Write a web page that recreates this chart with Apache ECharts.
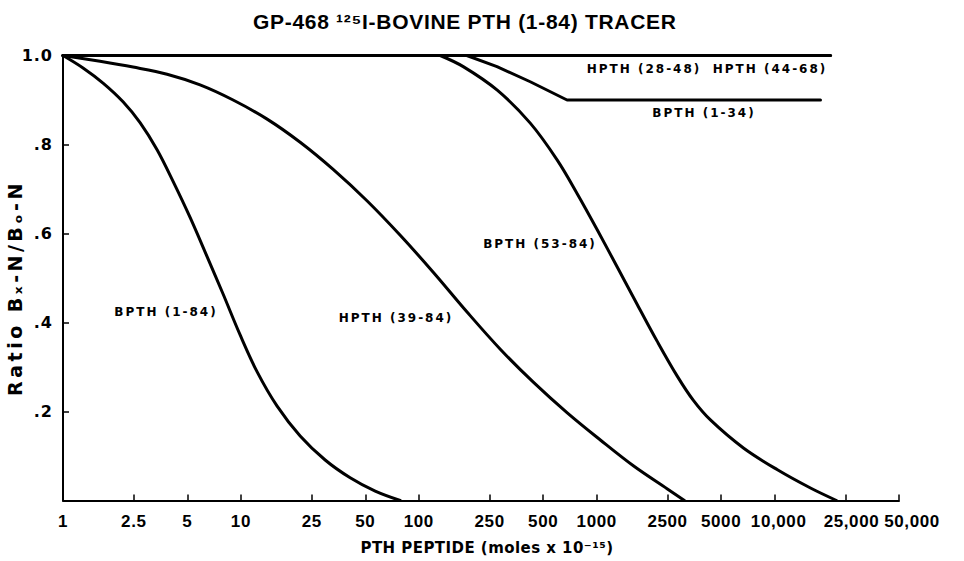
<!DOCTYPE html>
<html><head><meta charset="utf-8">
<script src="https://cdn.jsdelivr.net/npm/echarts@6/dist/echarts.min.js"></script>
<style>html,body{margin:0;padding:0;background:#fff}#c{width:964px;height:561px}</style>
</head><body><div id="c"></div>
<script>
// ---- text ----
const titleText = 'GP-468 \u00B9\u00B2\u2075I-BOVINE PTH (1-84) TRACER';
const xAxisTitle = 'PTH PEPTIDE (moles x 10\u207B\u00B9\u2075)';
const yAxisTitle = 'Ratio B\u2093-N/B\u2092-N';

// ---- ticks ----
const xTickValues = [1, 2.5, 5, 10, 25, 50, 100, 250, 500, 1000, 2500, 5000, 10000, 25000, 50000];
const xTickLabels = ['1', '2.5', '5', '10', '25', '50', '100', '250', '500', '1000', '2500', '5000', '10,000', '25,000', '50,000'];
const yTickValues = [0, 0.2, 0.4, 0.6, 0.8, 1.0];
const yTickLabels = ['', '.2', '.4', '.6', '.8', '1.0'];

// ---- series ----
const seriesNames = ['BPTH (1-84)', 'HPTH (39-84)', 'BPTH (53-84)', 'BPTH (1-34)', 'HPTH (28-48)', 'HPTH (44-68)'];

const bpth184X = [1, 1.296, 1.679, 2.175, 2.711, 3.379, 4.156, 5.18, 6.455, 7.94, 9.9, 12.34, 15.98, 21.53, 29.76, 41.14, 56.87, 78.6];
const bpth184Y = [1.0, 0.972, 0.938, 0.896, 0.849, 0.788, 0.717, 0.636, 0.548, 0.464, 0.372, 0.289, 0.212, 0.145, 0.091, 0.051, 0.021, 0];

const hpth3984X = [1, 1.615, 2.476, 3.846, 5.895, 9.04, 14.04, 21.53, 33.0, 51.28, 78.6, 120.5, 187.2, 287, 440, 683, 1048, 1606, 2496, 3110];
const hpth3984Y = [1.0, 0.987, 0.974, 0.958, 0.934, 0.900, 0.857, 0.805, 0.744, 0.673, 0.596, 0.513, 0.423, 0.340, 0.266, 0.197, 0.136, 0.078, 0.026, 0];

const bpth5384X = [131.9, 177.7, 276, 423, 600, 778, 1008, 1306, 1692, 2192, 2840, 3494, 4355, 6676, 10370, 15900, 22270];
const bpth5384Y = [1.0, 0.975, 0.922, 0.848, 0.765, 0.689, 0.608, 0.524, 0.440, 0.357, 0.279, 0.225, 0.181, 0.118, 0.069, 0.028, 0];

const bpth134X = [1, 186, 275, 423, 681, 18100];
const bpth134Y = [1.0, 1.0, 0.975, 0.941, 0.90, 0.90];

const hpth2848X = [1, 20600];
const hpth2848Y = [1.0, 1.0];

const hpth4468X = [1, 20600];
const hpth4468Y = [1.0, 1.0];

const zip = (xs, ys) => xs.map((x, i) => [x, ys[i]]);

const BOLD = 'bold';
const DJ = '"DejaVu Sans", sans-serif';
const LIB = '"Liberation Sans", Arial, sans-serif';

function lineSeries(name, xs, ys, smooth) {
  return {
    name: name, type: 'line', data: zip(xs, ys), showSymbol: false, symbol: 'none',
    smooth: smooth, animation: false, silent: true, clip: false,
    lineStyle: { color: '#000', width: 3, cap: 'round', join: 'round' }
  };
}

function curveLabel(text, x, y) {
  return { type: 'text', x: x, y: y, silent: true,
    style: { text: text, fill: '#000', fontFamily: DJ, fontWeight: BOLD, fontSize: 12,
      textAlign: 'center', textVerticalAlign: 'middle' } };
}

const tickFont = { color: '#000', fontFamily: LIB, fontWeight: BOLD, fontSize: 17 };
const xRich = {
  n: Object.assign({}, tickFont),
  p8: Object.assign({ padding: [0, 0, 0, 8] }, tickFont),
  p12: Object.assign({ padding: [0, 0, 0, 12] }, tickFont),
  p26: Object.assign({ padding: [0, 0, 0, 26] }, tickFont)
};

const chart = echarts.init(document.getElementById('c'), null, { renderer: 'svg' });
chart.setOption({
  animation: false,
  backgroundColor: '#fff',
  grid: { left: 63, right: 65, top: 55.5, bottom: 60.5, containLabel: false, outerBoundsMode: 'none' },
  xAxis: {
    type: 'log', logBase: 10, min: 1, max: 50000,
    name: xAxisTitle, nameLocation: 'middle', nameGap: 40,
    nameTextStyle: { color: '#000', fontFamily: DJ, fontWeight: BOLD, fontSize: 15, padding: [0, 0, 0, 12] },
    axisLine: { show: true, onZero: false, lineStyle: { color: '#000', width: 2 } },
    axisTick: { show: true, inside: true, length: 6, customValues: xTickValues, lineStyle: { color: '#000', width: 1.5 } },
    axisLabel: { show: true, margin: 12, customValues: xTickValues, hideOverlap: false, showMinLabel: true, showMaxLabel: true,
      color: '#000', fontFamily: LIB, fontWeight: BOLD, fontSize: 17, rich: xRich,
      formatter: function (v) {
        for (let i = 0; i < xTickValues.length; i++) {
          if (Math.abs(v - xTickValues[i]) / xTickValues[i] < 1e-6) {
            const lab = xTickLabels[i];
            if (i === xTickValues.length - 1) return '{p26|' + lab + '}';
            if (i === xTickValues.length - 2) return '{p12|' + lab + '}';
            if (i === xTickValues.length - 3) return '{p8|' + lab + '}';
            return '{n|' + lab + '}';
          }
        }
        return '';
      } },
    splitLine: { show: false }, minorTick: { show: false }, minorSplitLine: { show: false }
  },
  yAxis: {
    type: 'value', min: 0, max: 1, interval: 0.2,
    axisLine: { show: true, lineStyle: { color: '#000', width: 2 } },
    axisTick: { show: true, inside: true, length: 6, lineStyle: { color: '#000', width: 1.5 } },
    axisLabel: { show: true, margin: 10, color: '#000', fontFamily: DJ, fontWeight: BOLD, fontSize: 16,
      formatter: function (v) {
        for (let i = 0; i < yTickValues.length; i++) if (Math.abs(v - yTickValues[i]) < 1e-6) return yTickLabels[i];
        return '';
      } },
    splitLine: { show: false }
  },
  series: [
    lineSeries(seriesNames[0], bpth184X, bpth184Y, 0.35),
    lineSeries(seriesNames[1], hpth3984X, hpth3984Y, 0.35),
    lineSeries(seriesNames[2], bpth5384X, bpth5384Y, 0.35),
    lineSeries(seriesNames[3], bpth134X, bpth134Y, false),
    lineSeries(seriesNames[4], hpth2848X, hpth2848Y, false),
    lineSeries(seriesNames[5], hpth4468X, hpth4468Y, false)
  ],
  graphic: [
    { type: 'text', x: 253, y: 21, silent: true,
      style: { text: titleText, fill: '#000', fontFamily: LIB, fontWeight: BOLD, fontSize: 21,
        textAlign: 'left', textVerticalAlign: 'middle' } },
    { type: 'text', x: 15, y: 288, rotation: Math.PI / 2, silent: true,
      style: { text: yAxisTitle, fill: '#000', fontFamily: DJ, fontWeight: BOLD, fontSize: 19,
        textAlign: 'center', textVerticalAlign: 'middle' } },
    curveLabel(seriesNames[0], 166, 312),
    curveLabel(seriesNames[1], 396, 318),
    curveLabel(seriesNames[2], 540, 244),
    curveLabel(seriesNames[3], 704, 113),
    curveLabel(seriesNames[4], 644, 69),
    curveLabel(seriesNames[5], 770, 69)
  ]
});

// letter spacing to mimic the spaced-out typesetting
function applySpacing() {
  const texts = document.querySelectorAll('#c svg text');
  texts.forEach(function (t) {
    const s = t.textContent;
    let ls = null;
    if (s === titleText) ls = '0.7px';
    else if (s === xAxisTitle) ls = '0.45px';
    else if (s === yAxisTitle) ls = '3.5px';
    else if (seriesNames.indexOf(s) >= 0) ls = '2px';
    else if (xTickLabels.indexOf(s) >= 0 && s !== '') ls = '0.6px';
    else if (yTickLabels.indexOf(s) >= 0 && s !== '') ls = '1px';
    if (ls) t.style.letterSpacing = ls;
  });
}
applySpacing();
chart.on('finished', applySpacing);
setTimeout(applySpacing, 50);
</script></body></html>
